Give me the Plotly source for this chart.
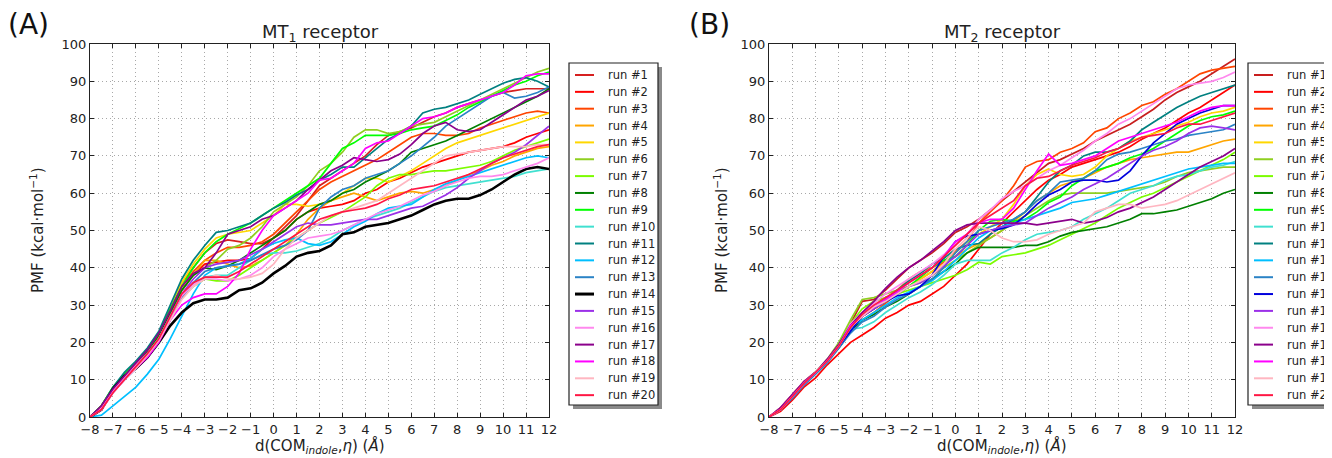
import plotly.graph_objects as go

# page has an 8px body margin, so positions are offset by 8px; width reaches the window's right edge
OFF = 8
W, H = 1332, 458 - OFF

x_vals = [-8 + 0.5 * i for i in range(41)]
run_names = [f"run #{i}" for i in range(1, 21)]

colors_a = ["#d62020", "#ff0000", "#ff4500", "#ffa500", "#ffd700", "#8fcf20", "#7cfc00",
            "#008000", "#00ff00", "#40e0d0", "#008080", "#00bfff", "#2b83c6", "#000000",
            "#9b30e8", "#ff88ee", "#8b008b", "#ff00ff", "#ffb6c1", "#ff1744"]
colors_b = list(colors_a)
colors_b[0] = "#c81e1e"
colors_b[13] = "#0000dd"

# ---------------- Panel A : MT1 receptor ----------------
a01 = [0,3,7.5,11,14.5,18,22.5,29,36,40,44,46.5,47.5,47,46.5,46.5,48,51,54,58,62,64,66,68,70,73,75.5,76.5,77.5,79,80.5,81.5,83,84,85,86,87,87.5,88,88,88]
a02 = [0,2.5,7,10.5,14,17.5,22,28,34,38,41,41.5,42,42,42.5,45,48,50,53,55,56,56.5,57,58,60,61,63,64,65.5,67,68,69,70,71,71.5,72,72.5,73.5,75,76,77]
a03 = [0,3,7.5,11,14.5,18,22.5,28.5,35,39,42,44,45.5,45.5,46,47,49,52,55,58,61,63,64.5,66,67.5,69,71,73,75,76,76,75.5,75.5,76,77.5,78.5,79.5,80.5,81.5,82,81.5]
a04 = [0,2.5,7,10.5,14,17.5,22,28,34,38,42,42,41,40,40.5,42,44,46,49,53,56,58,59,60,59,58,59,60,60.5,60,61,62,63.5,65,66,67.5,68.5,70,71,72,72.5]
a05 = [0,3,8,11.5,14.5,18,22.5,29,36,41,45,48,49,49.5,50,52,54,57,57,56.5,57,58,60,62,64,64,63,64.5,66,68,70,72,73.5,74.5,75.5,76.5,77.5,78.5,79.5,80.5,81.5]
a06 = [0,2.5,7.5,11,14,17.5,22,28,34,38,40,42,45,46,48,51,55,57,59,62,66,68,71,75,77,77,76,76.5,78,78.5,79,80.5,82,83.5,85,86.5,88,89.5,91,92.5,93.5]
a07 = [0,2,7,10.5,13.5,17,21,27,32,35,37,36.5,36.5,38,40,42,44,46,48,50,52,53.5,55,57,59,62,64,65,65,65.5,66,66,66.5,67,67.5,68.5,70,71.5,72.5,73.5,74.5]
a08 = [0,2.5,7,10.5,14,17.5,22,28,34,38,40,39.5,40.5,42,44,46,48,50,53,55,57,58,60,61,63,64.5,66,68,71,72,73,74,75.5,77,78.5,80,81.5,83,84.5,86,88]
a09 = [0,3,8,11.5,14.5,18,22.5,29,35,40,44,47,49,50.5,52,54,56,58,60,62,64,68,72,73.5,75.5,75.5,75.5,76,77,77.5,78,79.5,81,83,84.5,86,87.5,89,90,91.5,92.5]
a10 = [0,2,6.5,10,13,16.5,20.5,26.5,32,35,37.5,38,38,40,42,43.5,44,44,44.5,45.5,46.5,48,50,51.5,53,54,55,56,57.5,59,60.5,61.5,62,62.5,63,63.5,64,64.5,65.5,66,66.5]
a11 = [0,3,8,12,15,18.5,23,30,37,42,46,49.5,50,51,52,54,56,57.5,59.5,61,63.5,65,67,67,69.5,72,74.5,76,78,81.5,82.5,83,84,85,86.5,88,89.5,90.5,91,90,88.5]
a12 = [0,0.5,3,5.5,8,11.5,15.5,21,27,33,38,40,40.5,41,42.5,45,46.5,47.5,48,46.5,46,47,49,51,52.5,54.5,56,56.5,57,59,61,62.5,63.5,64.5,65.5,66.5,67.5,68.5,69.5,70,69.5]
a13 = [0,2,7,10,13,16,20,26,32,36,39,40,40.5,41,42,43.5,45,46,47.5,50,56,59,61,62,64,65,66,68,70,72.5,75,78,80,82,84,86,87,85.5,86,87,88.5]
a14 = [0,2,7.5,11,13,16,20,24.5,28,30.5,31.5,31.5,32,34,34.5,36,38.5,40.5,43,44,44.5,46,49,49.5,51,51.5,52,53,54,55.5,57,58,58.5,58.5,59.5,61,63,65,66.5,67,66.5]
a15 = [0,2.5,7,10,13.5,17,21,27,33,37,40,41,41.5,42,43.5,45,47,49,51,52,51.5,51.5,52,52.5,53,53,54,55,56,56.5,58,59.5,61.5,64,66,68,69.5,71,73,75.5,78]
a16 = [0,2.5,7,10.5,14,17,21,27,32.5,35.5,37,37,36.5,37,38,40,43,45,46.5,48,48.5,49,50,51.5,53,54.5,55.5,56.5,58,59.5,60.5,62,63,64,64.5,64.5,65,66,67,68,69.5]
a17 = [0,3,7.5,11,14.5,18,22.5,28.5,35,38.5,40,44,49,50,51,53,54,56,58,61,63.5,66,67.5,69.5,69,68.5,69,70.5,73,76,78,79,77,76.5,77,79,81,83,85,86,87.5]
a18 = [0,2,6.5,10,13,16,20,26,30,32,33,33,35,38.5,45,50,54,56,58,60,63.5,64,66,68,72,73.5,74,76,78,80,80.5,81.5,83,84,85,86,87,89,91.5,92,92]
a19 = [0,2,6.5,10,13,16.5,20.5,26,31.5,35,37,38,37,37,37.5,38.5,41,45,48,50,52,54,55,56,57,58,60,62,64,66,68,70,70.5,71,71.5,72,72.5,72.5,72.5,73,73]
a20 = [0,2,6.5,10,13.5,17,21,27,33,36,37.5,37.5,37.5,39,41,43,45,47,49,51,53,54,55,55.5,56,57,58.5,59.5,61,61.5,62,63,64,65,66.5,68,69.5,70.5,71.5,72.5,73]

# ---------------- Panel B : MT2 receptor ----------------
b01 = [0,2.5,5.5,9.5,12,15,19,25,31,31.5,34,37,40,42,44,46.5,49.5,51,53,55.5,58,60.5,63,65.5,68,69,70.5,72,74,75.5,77,78.5,80.5,82.5,85,87,88.5,90,92,94,96]
b02 = [0,1.5,4.5,8,10.5,14,17,20,22,24,26.5,28,30,31,33,35,38,41,45,49,52,55,58,61,63.5,65,67,68,69,70,71,72.5,74.5,76,77.5,79.5,81.5,83,85,87,89]
b03 = [0,2.5,6,9.5,12,15,19,24.5,26,28,30.5,33,35,37,39,41.5,44.5,47,52,55,58,62,67,68.5,69,71,72,73.5,76.5,77.5,80,81.5,83.5,84.5,86.5,88,90,92,93,93.5,94]
b04 = [0,2,5.5,9,12,15,19,24,27,29,31,34,37,39,40,42,43,45,46.5,48,50,52.5,55,58,60,62,63,64,65.5,67,68,69,69.5,70,70.5,71,71,72,73,74,74.5]
b05 = [0,2,5.5,9,12,15,19,24,27,29,31,33,35,37,39,41,44,47,49,51,53,57,62,65,66.5,65,64.5,65,67,70,72,74,75,76,77,78,79,80.5,81.5,82,83]
b06 = [0,2.5,6,9.5,12,15.5,20,26,31.5,32,33,34,35,36,38,40,42,44,46,48,50,52,54,56,58,59.5,60,60,60,60,60.5,61,61.5,62,63,64.5,65.5,66,66.5,67,67]
b07 = [0,2,5.5,9,12,15,19.5,25,29,31,32,33,34,35,36,37,38,39.5,41.5,41,43,43.5,44,45,46,47.5,49,50.5,52,54,56,57.5,59,60,61.5,63,64.5,66,67.5,69,71]
b08 = [0,2,5.5,9,12,15,18.5,23,26,27.5,29.5,31,33,35,37,39,41,44,45.5,45.5,45.5,45.5,46,46,47,48.5,49.5,50,50.5,51,52,53,54.5,54.5,55,55.5,56.5,57.5,58.5,60,61]
b09 = [0,2,5.5,9,12,15,19,24,27,29,31,33,35,37.5,40,42,43,46,50,52.5,53,52.5,53,55,57.5,59,62,64,66,67,68,69.5,70.5,72,74,76,78,79.5,80.5,81,82]
b10 = [0,2,5.5,9,12,15,19,23.5,24,25.5,28,30,32,33.5,35.5,38,41,42,42,42,44,45.5,47.5,49,49.5,50,51,53,54.5,56,58,60,61,62,63.5,64.5,65,66,67,67.5,68.5]
b11 = [0,2,5.5,9,12,15,19,24,27,29.5,31.5,34,36.5,38.5,41,42.5,45,46,46.5,49,51,53,55,59,63,66,67.5,70,71,71,72,74,77,79,81,83,84.5,86,87,88,89]
b12 = [0,2,5.5,9,12,15,19,24,26,28,30,32,33.5,35,36.5,39,42,45,48,50,51,52,53,54,55,56,57.5,58,58.5,59.5,60.5,61.5,62.5,63.5,64.5,65.5,66.5,67,67.5,68,68]
b13 = [0,2,5,8.5,11.5,14.5,18.5,22.5,25.5,27,29.5,31.5,33,35,37,40,44,47,50,51,52,53,55,58,60,63,63.5,64,66,69,70.5,71,72,73,74,74.5,75.5,76,76.5,77,78.5]
b14 = [0,2,5.5,9,12,15,19,23,27,29,31,32.5,33,35,38,43,47,48.5,49,50,50.5,51.5,54,57,59.5,61,63,63.5,63.5,63,63.5,66,70,73.5,76,78.5,80,81.5,82.5,83.5,83.5]
b15 = [0,2,5.5,9,12,15,19,24,27,29,31,33,35,36,38,40.5,43,46,49,50,51,51.5,52,54,56,57.5,59,61,62.5,64,66,68,70,71.5,72.5,74,76,77.5,78,77.5,77]
b16 = [0,2.5,6,9.5,12,15,19,25,28,30.5,33,35,37,39,41,43.5,46.5,49,53,55.5,58.5,60.5,62,64,66,67.5,69.5,71.5,74,76,78.5,80,82,84,86,88,89,89.5,90,91,92.5]
b17 = [0,2.5,6,9.5,12,15.5,19.5,24.5,28,31,34.5,37.5,40,42,44.5,47,50,51.5,52,52,52,52,52,51.5,52,52.5,53,52,52.5,53.5,55,56,57.5,59,61,63,65,67,68.5,70,72]
b18 = [0,2,5.5,9,12,15,19,24.5,27,29.5,31.5,33.5,36,38,40,43,47,49,52,53,53,56,61,66,70.5,67.5,68,69,70,72,74,75,76,77,78,79,80.5,82,83,83.5,83.5]
b19 = [0,2,5.5,9,12,15,19,24,27,29.5,31,33,35,36.5,38,41,45,48,51,50,48,47,47,47.5,49,50,51,52,55,56,57,57,56,56.5,57,58,59.5,61,62.5,64,65.5]
b20 = [0,2,5.5,9,12,15,19,24,27.5,30,32,34,36,38,40,43,46,49,52,54,56,58,62,64,64.5,66,67.5,68.5,69.5,71,72,73.5,75,75.5,76,77.5,78.5,78.5,79.5,80.5,81.5]

series_a = [a01, a02, a03, a04, a05, a06, a07, a08, a09, a10, a11, a12, a13, a14, a15, a16, a17, a18, a19, a20]
series_b = [b01, b02, b03, b04, b05, b06, b07, b08, b09, b10, b11, b12, b13, b14, b15, b16, b17, b18, b19, b20]

x_ticks = list(range(-8, 13))
y_ticks = list(range(0, 101, 10))

FONT = "DejaVu Sans"
fig = go.Figure()

for i, (name, ys) in enumerate(zip(run_names, series_a)):
    fig.add_trace(go.Scatter(
        x=x_vals, y=ys, mode="lines", name=name, showlegend=False,
        line=dict(color=colors_a[i], width=2.6 if i == 13 else 1.7),
        xaxis="x", yaxis="y"))
for i, (name, ys) in enumerate(zip(run_names, series_b)):
    fig.add_trace(go.Scatter(
        x=x_vals, y=ys, mode="lines", name=name, showlegend=False,
        line=dict(color=colors_b[i], width=1.7),
        xaxis="x2", yaxis="y2"))

def px_x(p):
    return (p - OFF) / W

def px_y(p):
    return 1 - (p - OFF) / H

ax_common = dict(
    showline=True, linecolor="#222", linewidth=1.2, mirror="ticks",
    ticks="inside", ticklen=4, tickcolor="#222",
    showgrid=True, gridcolor="#a8a8a8", griddash="1px,3px", gridwidth=1,
    zeroline=False, automargin=False,
    tickfont=dict(family=FONT, size=13, color="#222"),
)

fig.update_layout(
    width=W, height=H,
    margin=dict(l=0, r=0, t=0, b=0, autoexpand=False),
    paper_bgcolor="white", plot_bgcolor="white",
    font=dict(family=FONT, color="#222"),
    showlegend=False,
    xaxis=dict(domain=[px_x(90), px_x(549)], range=[-8, 12], tickvals=x_ticks, anchor="y", **ax_common),
    yaxis=dict(domain=[px_y(417), px_y(44)], range=[0, 100], tickvals=y_ticks, anchor="x", **ax_common),
    xaxis2=dict(domain=[px_x(769), px_x(1235)], range=[-8, 12], tickvals=x_ticks, anchor="y2", **ax_common),
    yaxis2=dict(domain=[px_y(417), px_y(44)], range=[0, 100], tickvals=y_ticks, anchor="x2", **ax_common),
)

ann = []
shapes = []
for cx, lab in [(320, "MT<sub>1</sub> receptor"), (1002, "MT<sub>2</sub> receptor")]:
    ann.append(dict(x=px_x(cx), y=px_y(33), xref="paper", yref="paper", text=lab,
                    showarrow=False, font=dict(family=FONT, size=18, color="#222"),
                    xanchor="center", yanchor="middle"))
    ann.append(dict(x=px_x(cx), y=px_y(446), xref="paper", yref="paper",
                    text="d(COM<sub><i>indole</i></sub>,<i>η</i>) (<i>Å</i>)",
                    showarrow=False, font=dict(family=FONT, size=15, color="#222"),
                    xanchor="center", yanchor="middle"))
ann.append(dict(x=px_x(28), y=px_y(24), xref="paper", yref="paper", text="(A)", showarrow=False,
                font=dict(family=FONT, size=28, color="#111"), xanchor="center", yanchor="middle"))
ann.append(dict(x=px_x(709), y=px_y(24), xref="paper", yref="paper", text="(B)", showarrow=False,
                font=dict(family=FONT, size=28, color="#111"), xanchor="center", yanchor="middle"))
for cx in (37, 721):
    ann.append(dict(x=px_x(cx), y=px_y(230), xref="paper", yref="paper",
                    text="PMF (kcal·mol<sup>−1</sup>)", textangle=-90, showarrow=False,
                    font=dict(family=FONT, size=15, color="#222"),
                    xanchor="center", yanchor="middle"))

# legends (boxed, with a drop shadow) built from the run names and colours
for x0, cols in [(569, colors_a), (1248, colors_b)]:
    top, bottom = 63, 405
    shapes.append(dict(type="rect", xref="paper", yref="paper",
                       x0=px_x(x0 + 4), x1=px_x(x0 + 93), y0=px_y(bottom + 4), y1=px_y(top + 4),
                       fillcolor="#8a8a8a", line=dict(width=0), layer="above"))
    shapes.append(dict(type="rect", xref="paper", yref="paper",
                       x0=px_x(x0), x1=px_x(x0 + 89), y0=px_y(bottom), y1=px_y(top),
                       fillcolor="white", line=dict(color="#222", width=1.2), layer="above"))
    for k, (name, c) in enumerate(zip(run_names, cols)):
        yy = 75 + k * 16.85
        shapes.append(dict(type="line", xref="paper", yref="paper",
                           x0=px_x(x0 + 6), x1=px_x(x0 + 25), y0=px_y(yy), y1=px_y(yy),
                           line=dict(color=c, width=3 if k == 13 and cols is colors_a else 2),
                           layer="above"))
        ann.append(dict(x=px_x(x0 + 37), y=px_y(yy), xref="paper", yref="paper", text=name,
                        showarrow=False, font=dict(family=FONT, size=11.5, color="#222"),
                        xanchor="left", yanchor="middle"))

fig.update_layout(annotations=ann, shapes=shapes)
fig.write_html("out.html")
